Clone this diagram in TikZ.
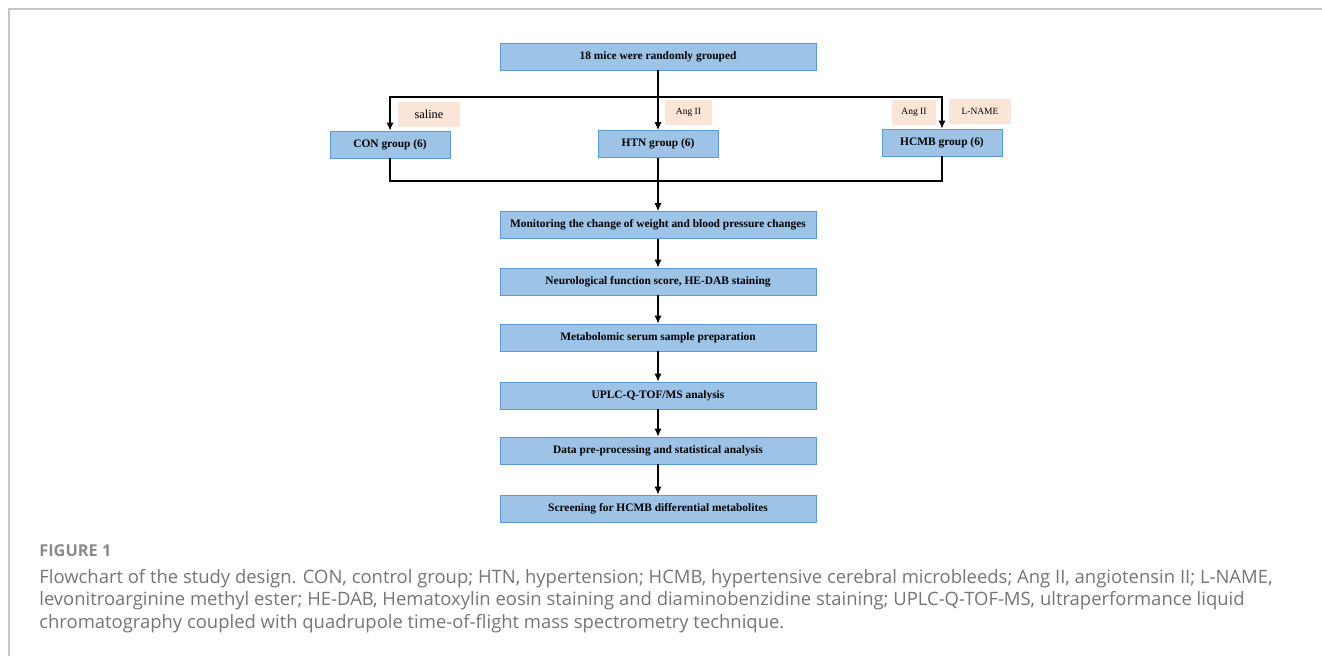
\documentclass[tikz,border=0pt]{standalone}
\usepackage{fontspec}
\setmainfont{Liberation Serif}
\newfontfamily\capfont{Open Sans}
\usetikzlibrary{arrows,arrows.meta,calc}
\definecolor{boxblue}{HTML}{9DC3E6}
\definecolor{boxline}{HTML}{5B9BD5}
\definecolor{peach}{HTML}{FBE5D6}
\definecolor{capgray}{HTML}{757575}
\tikzset{
    block/.style = {draw=boxline, fill=boxblue, rectangle, line width=0.5pt,
        minimum height=0.54cm,
        minimum width=6.32cm,
        font=\fontsize{6.5}{7}\selectfont\bfseries},
    group/.style = {block, minimum width=2.4cm},
    drug/.style = {fill=peach, rectangle, minimum height=0.5cm,
        font=\fontsize{5.4}{6}\selectfont},
    arrow/.style={draw, -{Latex[length=4.5pt,width=4pt]}, line width=0.6pt},
    link/.style={draw, line width=0.6pt}
}
\begin{document}
\begin{tikzpicture}[x=0.02cm, y=-0.02cm]
                \useasboundingbox (0,0) rectangle (1322,656);
                \draw[gray!45, line width=0.6pt] (9,656) -- (9,9) -- (1322,9);
                % flowchart
                \node[block] (mice) at (658,56.5) {18 mice were randomly grouped};
                \node[group] (con) at (390,144.5) {CON group (6)};
                \node[group] (htn) at (658,144) {HTN group (6)};
                \node[group] (hcmb) at (942,142.5) {HCMB group (6)};
                \node[drug, minimum width=1.24cm, font=\fontsize{7}{8}\selectfont] (saline) at (429,114) {saline};
                \node[drug, minimum width=0.94cm] (ang1) at (688.5,112.5) {Ang II};
                \node[drug, minimum width=0.88cm] (ang2) at (914,112) {Ang II};
                \node[drug, minimum width=1.24cm] (lname) at (980,111.5) {L-NAME};
                \coordinate (split) at (658,97);
                \coordinate (merge) at (658,181);
                \node[block] (monitor) at (658,225) {Monitoring the change of weight and blood pressure changes};
                \node[block] (neuro) at (658,281.5) {Neurological function score, HE-DAB staining};
                \node[block] (serum) at (658,337.5) {Metabolomic serum sample preparation};
                \node[block] (uplc) at (658,395.5) {UPLC-Q-TOF/MS analysis};
                \node[block] (data) at (658,450.5) {Data pre-processing and statistical analysis};
                \node[block] (screen) at (658,508.5) {Screening for HCMB differential metabolites};
                \draw [arrow] (mice) -- (htn);
                \draw [arrow] (split) -| (con);
                \draw [arrow] (split) -| (hcmb);
                \draw [link] (con) |- (merge);
                \draw [link] (hcmb) |- (merge);
                \draw [arrow] (htn) -- (monitor);
                \draw [arrow] (monitor) -- (neuro);
                \draw [arrow] (neuro) -- (serum);
                \draw [arrow] (serum) -- (uplc);
                \draw [arrow] (uplc) -- (data);
                \draw [arrow] (data) -- (screen);
                % caption
                \node[anchor=base west, inner sep=0pt, text=capgray!85,
                    font=\capfont\fontsize{9.3}{10}\selectfont\bfseries] (figlabel) at (39,556) {FIGURE 1};
                \node[anchor=base west, inner sep=0pt, text=capgray, align=left,
                    font=\capfont\fontsize{10.5}{12.75}\selectfont] (caption) at (39,628)
                    {Flowchart of the study design. CON, control group; HTN, hypertension; HCMB, hypertensive cerebral microbleeds; Ang II, angiotensin II; L-NAME,\\
                     levonitroarginine methyl ester; HE-DAB, Hematoxylin eosin staining and diaminobenzidine staining; UPLC-Q-TOF-MS, ultraperformance liquid\\
                     chromatography coupled with quadrupole time-of-flight mass spectrometry technique.};
            \end{tikzpicture}
\end{document}
